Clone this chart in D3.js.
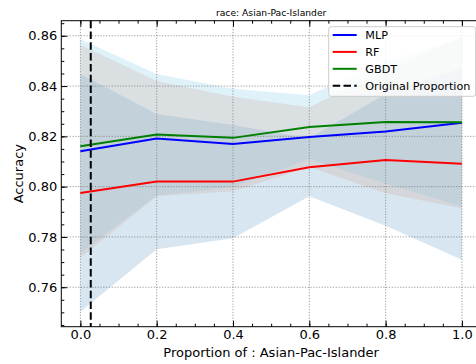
<!DOCTYPE html>
<html>
<head>
<meta charset="utf-8">
<script src="https://cdn.jsdelivr.net/npm/d3@7"></script>
<style>
  body { margin: 0; background: #fff; }
  svg { display: block; font-family: "DejaVu Sans", sans-serif; }
</style>
</head>
<body>
<div id="chart"></div>
<script>
var proportions = [0, 0.2, 0.4, 0.6, 0.8, 1.0]
var mlpMean = [0.8141, 0.8191, 0.8170, 0.8197, 0.8219, 0.8254]
var mlpStd = [0.0423, 0.0229, 0.0188, 0.0119, 0.0245, 0.0340]
var rfMean = [0.7975, 0.8020, 0.8020, 0.8077, 0.8106, 0.8091]
var rfStd = [0.0473, 0.0269, 0.0225, 0.0115, 0.0262, 0.0382]
var gbdtMean = [0.8161, 0.8207, 0.8194, 0.8237, 0.8257, 0.8256]
var gbdtStd = [0.0425, 0.0241, 0.0195, 0.0127, 0.0244, 0.0334]
var originalProportion = 0.0272
var xTicks = [0, 0.2, 0.4, 0.6, 0.8, 1.0]
var yTicks = [0.76, 0.78, 0.80, 0.82, 0.84, 0.86]

var W = 476, H = 364
var pLeft = 61.3, pRight = 481, pTop = 20.7, pBottom = 326.7

var svg = d3.select('#chart').append('svg')
  .attr('width', W).attr('height', H)

var x = d3.scaleLinear().domain([-0.05, 1.05]).range([pLeft, pRight])
var y = d3.scaleLinear().domain([0.7443, 0.866]).range([pBottom, pTop])

// bands first (order: RF, GBDT, MLP)
var bands = [
  { mean: rfMean, std: rfStd, fill: '#1f77b4', op: 0.18 },
  { mean: gbdtMean, std: gbdtStd, fill: '#87ceeb', op: 0.27 },
  { mean: mlpMean, std: mlpStd, fill: '#c89480', op: 0.2 }
]
var area = d3.area()
  .x(d => x(d.p))
  .y0(d => y(d.m - d.s))
  .y1(d => y(d.m + d.s))

bands.forEach(function(b) {
  var pts = proportions.map((p, i) => ({ p: p, m: b.mean[i], s: b.std[i] }))
  svg.append('path').datum(pts)
    .attr('d', area)
    .attr('fill', b.fill)
    .attr('fill-opacity', b.op)
})

// grid
var grid = svg.append('g').attr('stroke', '#808080').attr('stroke-width', 0.8)
  .attr('stroke-dasharray', '1.2,1.6')
grid.selectAll('.gx').data(xTicks).enter().append('line')
  .attr('x1', d => x(d)).attr('x2', d => x(d))
  .attr('y1', pTop).attr('y2', pBottom)
grid.selectAll('.gy').data(yTicks).enter().append('line')
  .attr('x1', pLeft).attr('x2', pRight)
  .attr('y1', d => y(d)).attr('y2', d => y(d))

// lines
var line = d3.line().x(d => x(d[0])).y(d => y(d[1]))
var series = [
  { name: 'MLP', mean: mlpMean, color: '#0000ff' },
  { name: 'RF', mean: rfMean, color: '#ff0000' },
  { name: 'GBDT', mean: gbdtMean, color: '#008000' }
]
series.forEach(function(s) {
  svg.append('path')
    .datum(proportions.map((p, i) => [p, s.mean[i]]))
    .attr('d', line)
    .attr('fill', 'none')
    .attr('stroke', s.color)
    .attr('stroke-width', 2)
})

// original proportion
svg.append('line')
  .attr('x1', x(originalProportion)).attr('x2', x(originalProportion))
  .attr('y1', pTop).attr('y2', pBottom)
  .attr('stroke', '#000').attr('stroke-width', 2)
  .attr('stroke-dasharray', '7.5,3.3')

// axes with inward ticks
var xMinor = d3.range(0, 22).map(i => -0.05 + i * 0.05).filter(v => v > -0.04)
var yMinor = d3.range(0, 25).map(i => 0.745 + i * 0.005)

function styleAxis(g) {
  g.select('.domain').remove()
  g.selectAll('line').attr('stroke', '#000').attr('stroke-width', 1)
  g.selectAll('text').attr('fill', '#000').style('font-size', '13px')
    .style('font-family', '"DejaVu Sans", sans-serif')
}

svg.append('g').attr('transform', 'translate(0,' + pBottom + ')')
  .call(d3.axisBottom(x).tickValues(xTicks).tickFormat(d3.format('.1f'))
    .tickSize(-6).tickSizeOuter(0).tickPadding(3.5))
  .call(styleAxis)
svg.append('g').attr('transform', 'translate(0,' + pBottom + ')')
  .call(d3.axisBottom(x).tickValues(xMinor).tickFormat('').tickSize(-3).tickSizeOuter(0))
  .call(styleAxis)
svg.append('g').attr('transform', 'translate(0,' + pTop + ')')
  .call(d3.axisTop(x).tickValues(xTicks).tickFormat('').tickSize(-6).tickSizeOuter(0))
  .call(styleAxis)
svg.append('g').attr('transform', 'translate(0,' + pTop + ')')
  .call(d3.axisTop(x).tickValues(xMinor).tickFormat('').tickSize(-3).tickSizeOuter(0))
  .call(styleAxis)

svg.append('g').attr('transform', 'translate(' + pLeft + ',0)')
  .call(d3.axisLeft(y).tickValues(yTicks).tickFormat(d3.format('.2f'))
    .tickSize(-6).tickSizeOuter(0).tickPadding(4))
  .call(styleAxis)
svg.append('g').attr('transform', 'translate(' + pLeft + ',0)')
  .call(d3.axisLeft(y).tickValues(yMinor).tickFormat('').tickSize(-3).tickSizeOuter(0))
  .call(styleAxis)

// frame
svg.append('rect')
  .attr('x', pLeft).attr('y', pTop)
  .attr('width', pRight - pLeft).attr('height', pBottom - pTop)
  .attr('fill', 'none').attr('stroke', '#000').attr('stroke-width', 1)

// texts
svg.append('text')
  .attr('x', (pLeft + pRight) / 2).attr('y', 15.5)
  .attr('text-anchor', 'middle').style('font-size', '9.2px')
  .text('race: Asian-Pac-Islander')
svg.append('text')
  .attr('x', (pLeft + pRight) / 2).attr('y', 356.5)
  .attr('text-anchor', 'middle').style('font-size', '13px')
  .text('Proportion of : Asian-Pac-Islander')
svg.append('text')
  .attr('transform', 'translate(23,' + (pTop + pBottom) / 2 + ') rotate(-90)')
  .attr('text-anchor', 'middle').style('font-size', '13px')
  .text('Accuracy')

// legend
var legend = svg.append('g').attr('transform', 'translate(328.7,26.7)')
legend.append('rect')
  .attr('width', 147).attr('height', 69.6).attr('rx', 2.5)
  .attr('fill', '#fff').attr('fill-opacity', 0.8)
  .attr('stroke', '#cccccc').attr('stroke-width', 1)
var items = series.map(s => ({ name: s.name, color: s.color, dash: null }))
  .concat([{ name: 'Original Proportion', color: '#000', dash: '7.5,3.3' }])
var row = legend.selectAll('.item').data(items).enter().append('g')
  .attr('transform', (d, i) => 'translate(0,' + (8.3 + i * 16.9) + ')')
row.append('line')
  .attr('x1', 4).attr('x2', 28)
  .attr('stroke', d => d.color).attr('stroke-width', 2)
  .attr('stroke-dasharray', d => d.dash)
row.append('text')
  .attr('x', 36.6).attr('dy', '0.36em')
  .style('font-size', '11.2px')
  .text(d => d.name)
</script>
</body>
</html>
